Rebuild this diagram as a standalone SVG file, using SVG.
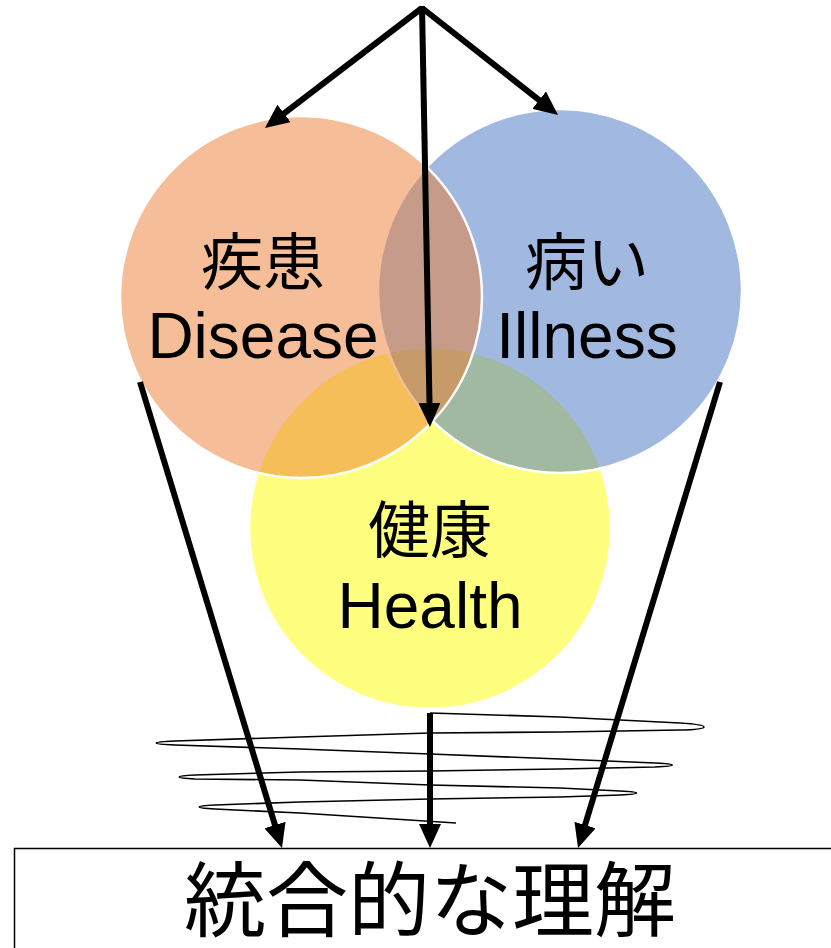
<svg xmlns="http://www.w3.org/2000/svg" width="831" height="948" viewBox="0 0 831 948">
<defs>
<marker id="ah" markerUnits="userSpaceOnUse" markerWidth="24" markerHeight="22" refX="11" refY="11" orient="auto">
<path d="M0,0 L24,11 L0,22 z" fill="#000"/>
</marker>
<style>
.c{stroke:#fff;stroke-width:2.5}
.t{font-family:"Liberation Sans","Noto Sans CJK JP",sans-serif;fill:#000;text-anchor:middle}
.a{stroke:#000;stroke-width:6;fill:none;marker-end:url(#ah)}
.sp{stroke:#000;stroke-width:1.6;fill:none}
</style>
</defs>
<rect width="831" height="948" fill="#fff"/>
<g id="health">
<circle class="c" cx="430" cy="528" r="181" fill="#FFFF00" fill-opacity="0.5"/>
</g>
<g id="illness">
<circle class="c" cx="560" cy="291" r="182" fill="#4472C4" fill-opacity="0.5"/>
</g>
<g id="disease">
<circle class="c" cx="301" cy="297" r="181" fill="#ED7D31" fill-opacity="0.5"/>
</g>
<g id="labels">
<text class="t" x="263" y="285" font-size="62">疾患</text>
<text class="t" x="263" y="358" font-size="64">Disease</text>
<text class="t" x="587" y="285" font-size="62">病い</text>
<text class="t" x="587" y="358" font-size="64">Illness</text>
<text class="t" x="430" y="553" font-size="62">健康</text>
<text class="t" x="430" y="628" font-size="64">Health</text>
</g>
<g id="integrated">
<rect x="14.5" y="848.5" width="830" height="120" fill="#fff" stroke="#000" stroke-width="1.5"/>
<text class="t" x="430" y="930" font-size="82">統合的な理解</text>
</g>
<g id="connectors">
<path class="sp" d="M430 713 L560 717 L680 723 C712 725,712 729,680 730 L560 732 L430 733 L300 737 L175 741 C150 742,150 744,175 745 L300 749 L430 754 L560 759 L655 763 C678 764,678 766,655 767 L560 769 L430 771 L300 772 L195 775 C174 776,174 778,195 779 L300 780 L430 785 L560 788 L620 791 C642 792,642 794,620 795 L560 797 L430 799 L300 802 L215 805 C194 806,194 808,215 809 L300 813 L456 823"/>
<line class="a" x1="422" y1="8" x2="275.3" y2="120.1"/>
<line class="a" x1="422" y1="8" x2="547.8" y2="106.9"/>
<line class="a" x1="422" y1="6" x2="429.7" y2="414"/>
<line class="a" x1="140" y1="382" x2="278.2" y2="835.6"/>
<line class="a" x1="430" y1="713" x2="430" y2="835"/>
<line class="a" x1="720" y1="382" x2="581.8" y2="835.6"/>
</g>
</svg>
